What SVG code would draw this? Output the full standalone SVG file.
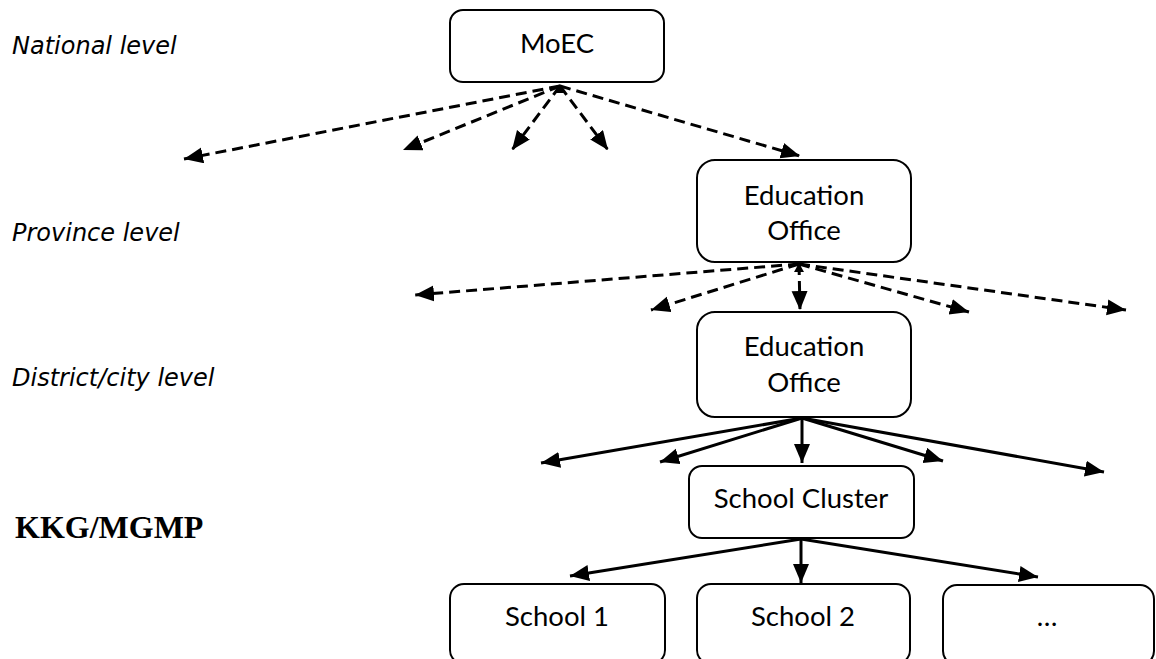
<svg xmlns="http://www.w3.org/2000/svg" width="1156" height="659" viewBox="0 0 1156 659">
<style>
.box{fill:#fff;stroke:#000;stroke-width:2}
.nt{font-family:Lato,"Open Sans",sans-serif;font-size:27.5px;fill:#000;text-anchor:middle}
.lbl{font-family:"DejaVu Sans",sans-serif;font-style:italic;font-size:24px;fill:#000}
.kkg{font-family:"Liberation Serif",serif;font-weight:bold;font-size:32px;fill:#000}
.dash{stroke:#000;stroke-width:3;stroke-dasharray:11,6;fill:none;marker-end:url(#ah)}
.solid{stroke:#000;stroke-width:3;fill:none;marker-end:url(#ah)}
</style>
<defs>
<marker id="ah" markerUnits="userSpaceOnUse" markerWidth="20" markerHeight="18" refX="19" refY="8" orient="auto" viewBox="0 0 20 18">
<path d="M0,0 L19,8 L0,16 z" fill="#000"/>
</marker>
</defs>
<g id="labels">
<text class="lbl" x="12" y="54">National level</text>
<text class="lbl" x="12" y="241">Province level</text>
<text class="lbl" x="12" y="386">District/city level</text>
<text class="kkg" x="15" y="538">KKG/MGMP</text>
</g>
<g id="connectors">
<path class="dash" d="M560,86 L184,159"/>
<path class="dash" d="M560,86 L403,150"/>
<path class="dash" d="M560,86 L512,150"/>
<path class="dash" d="M560,86 L608,150"/>
<path class="dash" d="M560,86 L800,156"/>
<path d="M555,93 L560,84 L565,93 z" fill="#000"/>
<path class="dash" d="M799,264 L415,295"/>
<path class="dash" d="M799,264 L651,310"/>
<path class="dash" d="M799,264 L800,310"/>
<path class="dash" d="M799,264 L969,312"/>
<path class="dash" d="M799,264 L1126,310"/>
<path d="M794,272 L799,263 L804,272 z" fill="#000"/>
<path class="solid" d="M802,418 L541,463"/>
<path class="solid" d="M802,418 L660,462"/>
<path class="solid" d="M802,418 L802,463"/>
<path class="solid" d="M802,418 L943,461"/>
<path class="solid" d="M802,418 L1104,472"/>
<path class="solid" d="M801,539 L570,576"/>
<path class="solid" d="M801,539 L801,583"/>
<path class="solid" d="M801,539 L1038,577"/>
</g>
<g id="moec">
<rect class="box" x="450" y="10" width="214" height="72" rx="13"/>
<text class="nt" x="557" y="53">MoEC</text>
</g>
<g id="edu-province">
<rect class="box" x="697" y="160" width="214" height="102" rx="18"/>
<text class="nt" x="804" y="205">Education</text>
<text class="nt" x="804" y="240">Office</text>
</g>
<g id="edu-district">
<rect class="box" x="697" y="312" width="214" height="105" rx="18"/>
<text class="nt" x="804" y="356">Education</text>
<text class="nt" x="804" y="392">Office</text>
</g>
<g id="cluster">
<rect class="box" x="689" y="466" width="225" height="72" rx="13"/>
<text class="nt" x="801" y="508">School Cluster</text>
</g>
<g id="school1">
<rect class="box" x="450" y="584" width="215" height="80" rx="14"/>
<text class="nt" x="557" y="626">School 1</text>
</g>
<g id="school2">
<rect class="box" x="697" y="584" width="213" height="80" rx="14"/>
<text class="nt" x="803" y="626">School 2</text>
</g>
<g id="school-more">
<rect class="box" x="943" y="585" width="211" height="80" rx="14"/>
<text class="nt" x="1047" y="626">…</text>
</g>
</svg>
